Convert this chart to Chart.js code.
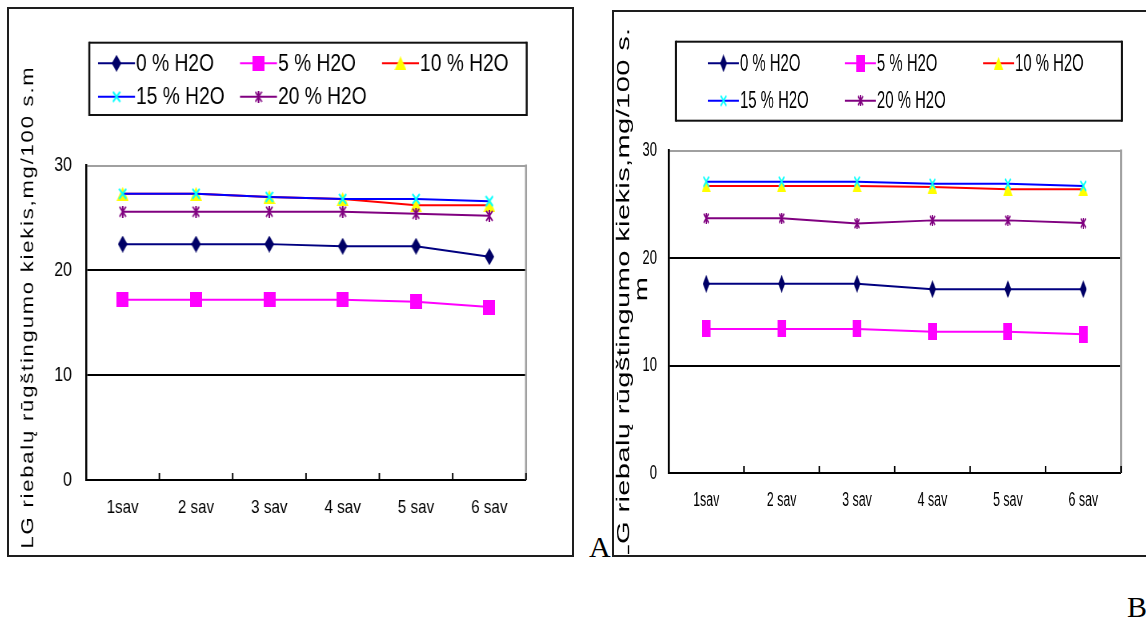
<!DOCTYPE html>
<html>
<head>
<meta charset="utf-8">
<script src="https://cdn.jsdelivr.net/npm/chart.js@4.4.0/dist/chart.umd.min.js"></script>
<style>
  html, body { margin: 0; padding: 0; background: #fff; }
  body { width: 1146px; height: 620px; overflow: hidden; position: relative; }
  .frame { position: absolute; box-sizing: border-box; border: 2px solid #1e1e1e; }
  #frameA { left: 7px; top: 7px; width: 567px; height: 550px; }
  #frameB { left: 612px; top: 10px; width: 600px; height: 547px; border-right: none; }
  .wrap { position: absolute; transform-origin: 0 0; }
  .tag { position: absolute; font-family: 'Liberation Serif', 'Times New Roman', serif; font-size: 30px; line-height: 1; color: #000; }
</style>
</head>
<body>
<div class="frame" id="frameA"></div>
<div class="frame" id="frameB"></div>
<div class="wrap" id="wrapA"><canvas id="chartA"></canvas></div>
<div class="wrap" id="wrapB"><canvas id="chartB"></canvas></div>
<div class="tag" style="left:589px; top:532px;">A</div>
<div class="tag" style="left:1127px; top:592px;">B</div>

<script>
// ---- data ----
const weeks = ['1sav', '2 sav', '3 sav', '4 sav', '5 sav', '6 sav'];
const seriesNames = ['0 % H2O', '5 % H2O', '10 % H2O', '15 % H2O', '20 % H2O'];
const yTicks = [0, 10, 20, 30];
const yTitle = 'LG riebalų rūgštingumo kiekis,mg/100 s.m';

// panel A
const a0  = [22.5, 22.5, 22.5, 22.3, 22.3, 21.3];
const a5  = [17.2, 17.2, 17.2, 17.2, 17.0, 16.5];
const a10 = [27.3, 27.3, 27.0, 26.8, 26.2, 26.2];
const a15 = [27.3, 27.3, 27.0, 26.8, 26.8, 26.6];
const a20 = [25.6, 25.6, 25.6, 25.6, 25.4, 25.2];

// panel B
const b0  = [17.6, 17.6, 17.6, 17.1, 17.1, 17.1];
const b5  = [13.4, 13.4, 13.4, 13.15, 13.15, 12.9];
const b10 = [26.7, 26.7, 26.7, 26.6, 26.4, 26.4];
const b15 = [27.1, 27.1, 27.1, 26.9, 26.9, 26.7];
const b20 = [23.7, 23.7, 23.2, 23.5, 23.5, 23.25];

// ---- styles ----
const family = "'Liberation Sans', Arial, sans-serif";
const lineColors = ['#000080', '#ff00ff', '#ff0000', '#0000ff', '#800080'];
const markerKinds = ['diamond', 'square', 'triangle', 'cross', 'star'];
const markerColors = ['#000066', '#ff00ff', '#ffff00', '#00ffff', '#800080'];

Chart.defaults.font.family = family;

function makeMarker(kind, color, w, h) {
  const c = document.createElement('canvas');
  c.width = Math.max(2, Math.round(w));
  c.height = Math.max(2, Math.round(h));
  const g = c.getContext('2d');
  const W = c.width, H = c.height;
  g.fillStyle = color;
  g.strokeStyle = color;
  if (kind === 'diamond') {
    g.beginPath(); g.moveTo(W / 2, 0); g.lineTo(W, H / 2); g.lineTo(W / 2, H); g.lineTo(0, H / 2); g.closePath(); g.fill();
  } else if (kind === 'square') {
    g.fillRect(0, 0, W, H);
  } else if (kind === 'triangle') {
    g.beginPath(); g.moveTo(W / 2, 0); g.lineTo(W, H); g.lineTo(0, H); g.closePath(); g.fill();
  } else {
    g.lineWidth = 2;
    g.beginPath();
    g.moveTo(1, 1); g.lineTo(W - 1, H - 1);
    g.moveTo(W - 1, 1); g.lineTo(1, H - 1);
    if (kind === 'star') { g.moveTo(W / 2, 0); g.lineTo(W / 2, H); }
    g.stroke();
  }
  return c;
}

// Each panel is laid out in page pixels, then drawn on a canvas that is
// narrowed horizontally by sx (condensed lettering of the original figure).
function buildPanel(p) {
  const W = Math.round(p.box.width / p.sx);
  const sx = p.box.width / W;
  const H = p.box.height;
  const wrap = document.getElementById(p.wrap);
  wrap.style.left = p.box.left + 'px';
  wrap.style.top = p.box.top + 'px';
  wrap.style.width = W + 'px';
  wrap.style.height = H + 'px';
  wrap.style.transform = 'scaleX(' + sx + ')';

  const X = v => (v - p.box.left) / sx;
  const Y = v => v - p.box.top;
  const area = { left: X(p.area.left), right: X(p.area.right), top: Y(p.area.top), bottom: Y(p.area.bottom) };

  const markers = markerKinds.map((k, i) => makeMarker(k, markerColors[i], p.marker[i][0] / sx, p.marker[i][1]));

  const datasets = p.series.map((vals, i) => ({
    label: seriesNames[i],
    data: vals,
    borderColor: lineColors[i],
    backgroundColor: lineColors[i],
    borderWidth: 2,
    tension: 0,
    pointStyle: markers[i],
    pointRadius: 5,
    pointHoverRadius: 5,
    order: seriesNames.length - i
  }));

  const decor = {
    id: 'panelDecor',
    beforeDatasetsDraw(chart) {
      const { ctx, chartArea: a } = chart;
      ctx.save();
      ctx.fillStyle = '#a0a0a0';
      ctx.fillRect(a.right - 1 / sx, a.top - 1, 2 / sx, a.bottom - a.top + 1);
      ctx.restore();
    },
    afterDraw(chart) {
      const { ctx, chartArea: a } = chart;
      const xs = chart.scales.x;
      ctx.save();

      // inside tick marks on the category axis
      ctx.fillStyle = '#000';
      for (let i = 0; i <= weeks.length; i++) {
        const x = xs.getPixelForValue(i - 0.5);
        ctx.fillRect(x - 0.75 / sx, a.bottom - 7, 1.5 / sx, 7);
      }

      // boxed legend
      const lg = p.legend;
      const bx1 = X(lg.box[0]), by1 = Y(lg.box[1]), bx2 = X(lg.box[2]), by2 = Y(lg.box[3]);
      ctx.fillStyle = '#111';
      ctx.fillRect(bx1, by1 - 1, bx2 - bx1, 2);
      ctx.fillRect(bx1, by2 - 1, bx2 - bx1, 2);
      ctx.fillRect(bx1 - 1 / sx, by1 - 1, 2 / sx, by2 - by1 + 2);
      ctx.fillRect(bx2 - 1 / sx, by1 - 1, 2 / sx, by2 - by1 + 2);
      seriesNames.forEach((name, i) => {
        const x0 = X(lg.cols[i % 3]);
        const y0 = Y(lg.rows[Math.floor(i / 3)]);
        const len = lg.lineLen / sx;
        ctx.strokeStyle = lineColors[i];
        ctx.lineWidth = 2;
        ctx.beginPath(); ctx.moveTo(x0, y0); ctx.lineTo(x0 + len, y0); ctx.stroke();
        const m = markers[i];
        ctx.drawImage(m, x0 + len / 2 - m.width / 2, y0 - m.height / 2);
        ctx.fillStyle = '#000';
        ctx.font = lg.fontSize + 'px ' + family;
        ctx.textAlign = 'left';
        ctx.textBaseline = 'middle';
        ctx.fillText(name, x0 + len + 1 / sx, y0 + 1);
      });

      // rotated value-axis title
      ctx.fillStyle = '#000';
      ctx.font = p.title.size + 'px ' + family;
      ctx.letterSpacing = p.title.spacing + 'px';
      ctx.textAlign = 'center';
      ctx.textBaseline = 'alphabetic';
      p.title.lines.forEach(l => {
        ctx.save();
        ctx.translate(X(l.x), Y(l.y));
        ctx.rotate(-Math.PI / 2);
        ctx.fillText(l.text, 0, 0);
        ctx.restore();
      });
      ctx.letterSpacing = '0px';
      ctx.restore();
    }
  };

  return new Chart(document.getElementById(p.canvas), {
    type: 'line',
    data: { labels: weeks, datasets },
    plugins: [decor],
    options: {
      responsive: true,
      maintainAspectRatio: false,
      animation: false,
      events: [],
      layout: { padding: { left: 0, top: area.top, right: W - area.right, bottom: 0 } },
      plugins: { legend: { display: false }, tooltip: { enabled: false } },
      scales: {
        x: {
          type: 'category',
          offset: true,
          grid: { display: false, drawTicks: false },
          border: { display: true, color: '#000', width: 2 },
          ticks: { padding: p.xPad, color: '#000', font: { size: p.xFont }, maxRotation: 0, autoSkip: false },
          afterFit: s => { s.height = H - area.bottom; }
        },
        y: {
          min: 0,
          max: 30,
          afterBuildTicks: s => { s.ticks = yTicks.map(v => ({ value: v })); },
          ticks: { padding: p.yPad / sx, color: '#000', font: { size: p.yFont } },
          grid: {
            drawTicks: false,
            lineWidth: 2,
            color: c => c.tick && c.tick.value === 30 ? '#a0a0a0' : (c.tick && c.tick.value === 0 ? 'rgba(0,0,0,0)' : '#000')
          },
          border: { display: true, color: '#000', width: 2 / sx },
          afterFit: s => { s.width = area.left; }
        }
      }
    }
  });
}

buildPanel({
  wrap: 'wrapA', canvas: 'chartA', sx: 0.8,
  box: { left: 10, top: 10, width: 561, height: 544 },
  area: { left: 86, right: 526, top: 165.5, bottom: 480 },
  xPad: 16, xFont: 19, yPad: 14, yFont: 20,
  series: [a0, a5, a10, a15, a20],
  marker: [[10, 17], [12, 15], [12, 14], [9, 12], [8, 12]],
  legend: { box: [89.3, 42.7, 526.7, 115], cols: [98, 240, 382], rows: [63.3, 96.7], lineLen: 37, fontSize: 24 },
  title: { size: 22, spacing: 1.8, lines: [{ text: yTitle, x: 33, y: 307 }] }
});

buildPanel({
  wrap: 'wrapB', canvas: 'chartB', sx: 0.62,
  box: { left: 615, top: 13, width: 531, height: 541 },
  area: { left: 668.5, right: 1121, top: 150.5, bottom: 473 },
  xPad: 15.5, xFont: 20, yPad: 11.5, yFont: 21,
  series: [b0, b5, b10, b15, b20],
  marker: [[7, 18], [8.5, 17], [9, 13], [7, 12], [6, 11]],
  legend: { box: [676, 41.7, 1122, 120.7], cols: [708, 845, 983], rows: [63.3, 100.7], lineLen: 31, fontSize: 24 },
  title: { size: 29, spacing: 0.4, lines: [
    { text: yTitle.slice(0, -1), x: 629, y: 294 },
    { text: yTitle.slice(-1), x: 647, y: 289 }
  ] }
});
</script>
</body>
</html>
